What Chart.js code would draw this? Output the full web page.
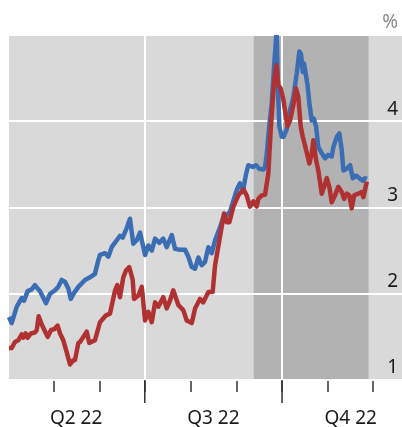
<!DOCTYPE html>
<html>
<head>
<meta charset="utf-8">
<script src="https://cdn.jsdelivr.net/npm/chart.js@4.4.0/dist/chart.umd.min.js"></script>
<style>
  html, body { margin: 0; padding: 0; background: #fff; }
</style>
</head>
<body>
<canvas id="grafico" width="402" height="427"></canvas>
<script>
// x values are days counted from 1 Apr 2022
const blueDays = [0, 1.8, 5.2, 8.5, 10.1, 12.5, 15.2, 17.4, 19.2, 20.8, 24.8, 27.5, 30.8, 33.0, 35.3, 37.5, 39.8, 41.4, 43.6, 46.5,
  50.9, 54.3, 57.6, 59.9, 61.0, 64.4, 66.6, 68.8, 72.2, 74.4, 76.2, 78.4, 81.1, 83.3, 85.6, 87.8, 91.2, 93.4, 95.7, 97.9,
  100.8, 103.4, 105.7, 109.1, 111.3, 114.6, 118.0, 120.2, 122.5, 124.7, 126.9, 129.2, 131.4, 133.6, 135.9, 138.1, 141.4, 143.7, 145.9, 148.1,
  150.4, 153.0, 154.8, 156.7, 158.9, 160.4, 163.4, 165.6, 167.8, 170.5, 171.6, 172.7, 174.5, 176.1, 177.8, 179.4, 180.3, 181.2, 182.8, 184.0,
  186.0, 188.4, 190.6, 192.9, 194.6, 195.7, 196.9, 197.7, 200.1, 201.3, 202.9, 204.3, 205.8, 207.3, 209.6, 211.8, 214.0, 216.3, 217.4, 219.7,
  221.4, 223.0, 224.1, 226.4, 228.6, 230.4, 232.6, 234.8, 237.1, 238.6, 239.8];
const blueVals = [1.73, 1.66, 1.85, 1.95, 1.92, 2.03, 2.05, 2.10, 2.06, 2.03, 1.89, 2.00, 2.04, 2.08, 2.16, 2.14, 2.06, 1.94, 2.01, 2.08,
  2.16, 2.19, 2.23, 2.39, 2.45, 2.47, 2.43, 2.54, 2.62, 2.67, 2.65, 2.74, 2.87, 2.58, 2.62, 2.71, 2.45, 2.56, 2.50, 2.64,
  2.59, 2.64, 2.54, 2.68, 2.52, 2.51, 2.51, 2.43, 2.31, 2.29, 2.42, 2.33, 2.37, 2.54, 2.47, 2.62, 2.77, 2.89, 2.91, 2.95,
  3.08, 3.22, 3.28, 3.18, 3.39, 3.49, 3.47, 3.49, 3.45, 3.44, 3.47, 3.61, 3.96, 4.21, 4.67, 5.05, 4.36, 3.94, 3.82, 3.82,
  3.90, 4.13, 4.28, 4.56, 4.81, 4.78, 4.57, 4.67, 4.42, 4.21, 4.01, 4.03, 3.94, 3.70, 3.63, 3.57, 3.61, 3.59, 3.70, 3.82,
  3.86, 3.67, 3.43, 3.45, 3.49, 3.34, 3.37, 3.34, 3.31, 3.34, 3.33];

const redDays = [0, 1.8, 4.0, 6.2, 8.5, 9.6, 11.2, 12.5, 14.7, 17.4, 18.6, 19.9, 21.8, 23.7, 25.9, 28.2, 30.4, 32.6, 34.2, 36.4,
  38.7, 40.9, 43.1, 44.2, 46.5, 47.6, 52.1, 53.8, 57.6, 61.0, 65.0, 67.7, 71.1, 72.6, 74.4, 76.6, 78.4, 80.6, 82.9, 83.8,
  86.7, 89.0, 91.2, 93.4, 95.7, 97.9, 100.1, 103.4, 105.7, 107.9, 110.1, 113.5, 116.8, 119.1, 122.5, 124.7, 128.0, 130.2, 133.6, 136.5,
  138.1, 141.4, 144.1, 145.9, 147.7, 150.4, 153.7, 157.1, 159.3, 161.5, 163.8, 166.0, 167.1, 169.4, 171.6, 173.8, 175.4, 177.6, 179.2, 180.5,
  182.1, 183.9, 186.6, 188.4, 190.6, 192.4, 193.9, 195.5, 196.9, 199.1, 201.3, 202.9, 204.0, 205.8, 207.3, 209.6, 211.2, 213.0, 214.7, 216.3,
  218.5, 220.7, 223.0, 224.6, 226.4, 228.1, 229.7, 231.3, 234.1, 236.4, 237.5, 239.8];
const redVals = [1.37, 1.37, 1.44, 1.46, 1.53, 1.49, 1.54, 1.49, 1.54, 1.55, 1.58, 1.74, 1.65, 1.58, 1.50, 1.58, 1.59, 1.63, 1.54, 1.46,
  1.32, 1.18, 1.23, 1.23, 1.43, 1.44, 1.56, 1.43, 1.46, 1.67, 1.75, 1.77, 2.04, 2.10, 1.96, 2.19, 2.27, 2.31, 2.16, 1.94,
  1.98, 2.08, 1.69, 1.79, 1.67, 1.90, 1.85, 1.96, 1.83, 1.92, 2.04, 1.87, 1.81, 1.69, 1.66, 1.83, 1.94, 1.90, 2.02, 2.02,
  2.33, 2.66, 2.93, 2.83, 2.83, 3.01, 3.14, 3.21, 3.14, 3.01, 3.07, 3.01, 3.10, 3.14, 3.15, 3.39, 3.90, 4.44, 4.65, 4.42,
  4.38, 4.25, 3.94, 4.01, 4.19, 4.38, 4.28, 3.94, 3.82, 3.67, 3.51, 3.63, 3.78, 3.55, 3.43, 3.16, 3.24, 3.34, 3.24, 3.06,
  3.14, 3.24, 3.18, 3.10, 3.16, 3.14, 2.99, 3.14, 3.16, 3.18, 3.12, 3.30];

const monthTicks = [30, 61, 91, 122, 153, 183, 214, 244];
const quarterStarts = [91, 183];
const quarterMids = [45, 137, 229];
const quarterLabels = ['Q2 22', 'Q3 22', 'Q4 22'];
const yTicks = [1, 2, 3, 4, 5];
const shadeFrom = 164;
const shadeTo = 241;

const fundo = {
  id: 'fundo',
  beforeDraw(chart) {
    const {ctx, chartArea: a, scales: {x}} = chart;
    ctx.save();
    ctx.fillStyle = '#d9d9d9';
    ctx.fillRect(a.left, a.top, a.right - a.left, a.bottom - a.top);
    const x0 = x.getPixelForValue(shadeFrom);
    const x1 = x.getPixelForValue(shadeTo);
    ctx.fillStyle = '#b2b2b2';
    ctx.fillRect(x0, a.top, x1 - x0, a.bottom - a.top);
    ctx.restore();
  },
  afterDraw(chart) {
    // longer ticks at the start of each quarter
    const {ctx, chartArea: a, scales: {x}} = chart;
    ctx.save();
    ctx.strokeStyle = '#333';
    ctx.lineWidth = 1.5;
    quarterStarts.forEach(d => {
      const px = x.getPixelForValue(d);
      ctx.beginPath();
      ctx.moveTo(px, a.bottom);
      ctx.lineTo(px, a.bottom + 23);
      ctx.stroke();
    });
    ctx.restore();
  }
};

const fonte = {family: 'Noto Sans', size: 19, lineHeight: 1};

new Chart(document.getElementById('grafico'), {
  type: 'line',
  data: {
    datasets: [{
        data: redDays.map((d, i) => ({x: d, y: redVals[i]})),
        borderColor: '#b03131',
        borderWidth: 4.5,
        pointRadius: 0,
        borderJoinStyle: 'round',
        clip: {left: 4, right: 4, top: 0, bottom: 4}
      },
      {
        data: blueDays.map((d, i) => ({x: d, y: blueVals[i]})),
        borderColor: '#3b6db5',
        borderWidth: 4.5,
        pointRadius: 0,
        borderJoinStyle: 'round',
        clip: {left: 4, right: 4, top: 0, bottom: 4}
      }
    ]
  },
  options: {
    responsive: false,
    animation: false,
    devicePixelRatio: 1,
    layout: {padding: {left: 9, top: 35, right: 0, bottom: 0}},
    plugins: {legend: {display: false}, tooltip: {enabled: false}},
    scales: {
      x: {
        type: 'linear',
        min: 0,
        max: 263.4,
        afterBuildTicks: axis => {
          axis.ticks = monthTicks.concat(quarterMids).sort((a, b) => a - b).map(v => ({value: v}));
        },
        afterFit: axis => { axis.height = 47; },
        border: {display: false},
        grid: {
          color: c => (c.tick && quarterStarts.includes(c.tick.value)) ? '#ffffff' : 'rgba(0,0,0,0)',
          lineWidth: 2,
          tickColor: c => (c.tick && monthTicks.includes(c.tick.value)) ? '#333333' : 'rgba(0,0,0,0)',
          tickLength: 12,
          tickWidth: 1.5
        },
        ticks: {
          autoSkip: false,
          maxRotation: 0,
          padding: 17,
          font: fonte,
          color: '#1a1a1a',
          callback: v => {
            const i = quarterMids.indexOf(v);
            return i >= 0 ? quarterLabels[i] : '';
          }
        }
      },
      y: {
        position: 'right',
        min: 1,
        max: 5,
        afterBuildTicks: axis => { axis.ticks = yTicks.map(v => ({value: v})); },
        afterFit: axis => { axis.width = 0; },
        border: {display: false},
        grid: {color: '#ffffff', lineWidth: 2, drawTicks: false},
        ticks: {
          mirror: true,
          padding: -4,
          labelOffset: -12,
          font: fonte,
          color: c => c.tick.value === 5 ? '#8a8a8a' : '#1a1a1a',
          callback: v => v === 5 ? '%' : String(v)
        }
      }
    }
  },
  plugins: [fundo]
});
</script>
</body>
</html>
